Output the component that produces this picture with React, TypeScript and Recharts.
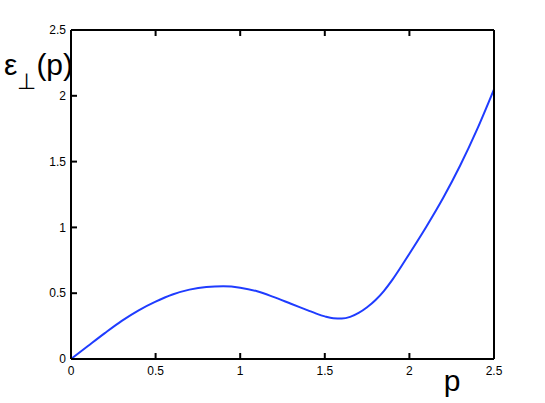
import { LineChart, Line, XAxis, YAxis } from "recharts"

const pValues = [
  0, 0.1, 0.2, 0.3, 0.4, 0.5, 0.6, 0.7, 0.8, 0.9, 1.0, 1.1, 1.2, 1.3, 1.4, 1.45, 1.5,
  1.55, 1.6, 1.65, 1.7, 1.75, 1.8, 1.85, 1.9, 2.0, 2.1, 2.2, 2.3, 2.4, 2.5,
]
const energyValues = [
  0, 0.099, 0.197, 0.29, 0.37, 0.436, 0.49, 0.527, 0.547, 0.552, 0.542, 0.515, 0.47,
  0.42, 0.37, 0.345, 0.324, 0.31, 0.308, 0.32, 0.35, 0.393, 0.448, 0.518, 0.603,
  0.8, 1.005, 1.225, 1.47, 1.745, 2.05,
]
const xTicks = [0, 0.5, 1, 1.5, 2, 2.5]
const yTicks = [0, 0.5, 1, 1.5, 2, 2.5]

const data = pValues.map((p, i) => ({ p, e: energyValues[i] }))

const FONT = "'Liberation Sans', Arial, Helvetica, sans-serif"
const TICK = 5
const axisStyle = { stroke: "#000", strokeWidth: 2 }

// tick marks drawn by hand so they point into the plot
function BottomTick(props: any) {
  const { x, y, payload } = props
  return (
    <g>
      <path d={`M${x},${y - 1}v${-TICK}`} stroke="#000" strokeWidth={2} fill="none" />
      <text x={x} y={y + 16} textAnchor="middle" fontSize={12} fontFamily={FONT} fill="#000">
        {payload.value}
      </text>
    </g>
  )
}

function TopTick(props: any) {
  const { x, y } = props
  return <path d={`M${x},${y + 1}v${TICK}`} stroke="#000" strokeWidth={2} fill="none" />
}

function LeftTick(props: any) {
  const { x, y, payload } = props
  return (
    <g>
      <path d={`M${x + 1},${y}h${TICK}`} stroke="#000" strokeWidth={2} fill="none" />
      <text x={x - 5} y={y} dy="0.35em" textAnchor="end" fontSize={12} fontFamily={FONT} fill="#000">
        {payload.value}
      </text>
    </g>
  )
}

function RightTick(props: any) {
  const { x, y } = props
  return <path d={`M${x - 1},${y}h${-TICK}`} stroke="#000" strokeWidth={2} fill="none" />
}

function XLabel(props: any) {
  const { viewBox } = props
  return (
    <text x={viewBox.x + 381} y={viewBox.y + 32} textAnchor="middle" fontSize={30} fontFamily={FONT} fill="#000">
      p
    </text>
  )
}

function YLabel(props: any) {
  const { viewBox } = props
  return (
    <text x={viewBox.x + 4} y={viewBox.y + 45} fontSize={30} fontFamily={FONT} fill="#000">
      <tspan>ε</tspan>
      <tspan dy={14} fontSize={22}>⊥</tspan>
      <tspan dy={-14}>(p)</tspan>
    </text>
  )
}

export default function App() {
  return (
    <div style={{ position: "absolute", left: 0, top: 0, background: "#fff" }}>
      <LineChart width={545} height={403} data={data} margin={{ top: 29, right: 50, bottom: 0, left: 0 }}>
        <XAxis
          dataKey="p"
          type="number"
          domain={[0, 2.5]}
          ticks={xTicks}
          height={44}
          tickSize={0}
          tickMargin={0}
          tickLine={false}
          axisLine={axisStyle}
          tick={<BottomTick />}
          label={<XLabel />}
        />
        <XAxis
          xAxisId="top"
          orientation="top"
          dataKey="p"
          type="number"
          domain={[0, 2.5]}
          ticks={xTicks}
          height={1}
          tickSize={0}
          tickMargin={0}
          tickLine={false}
          axisLine={axisStyle}
          tick={<TopTick />}
        />
        <YAxis
          type="number"
          domain={[0, 2.5]}
          ticks={yTicks}
          width={71}
          tickSize={0}
          tickMargin={0}
          tickLine={false}
          axisLine={axisStyle}
          tick={<LeftTick />}
          label={<YLabel />}
        />
        <YAxis
          yAxisId="right"
          orientation="right"
          type="number"
          domain={[0, 2.5]}
          ticks={yTicks}
          width={1}
          tickSize={0}
          tickMargin={0}
          tickLine={false}
          axisLine={axisStyle}
          tick={<RightTick />}
        />
        <Line
          dataKey="e"
          type="monotone"
          stroke="#1f3cff"
          strokeWidth={2}
          dot={false}
          isAnimationActive={false}
        />
      </LineChart>
    </div>
  )
}
